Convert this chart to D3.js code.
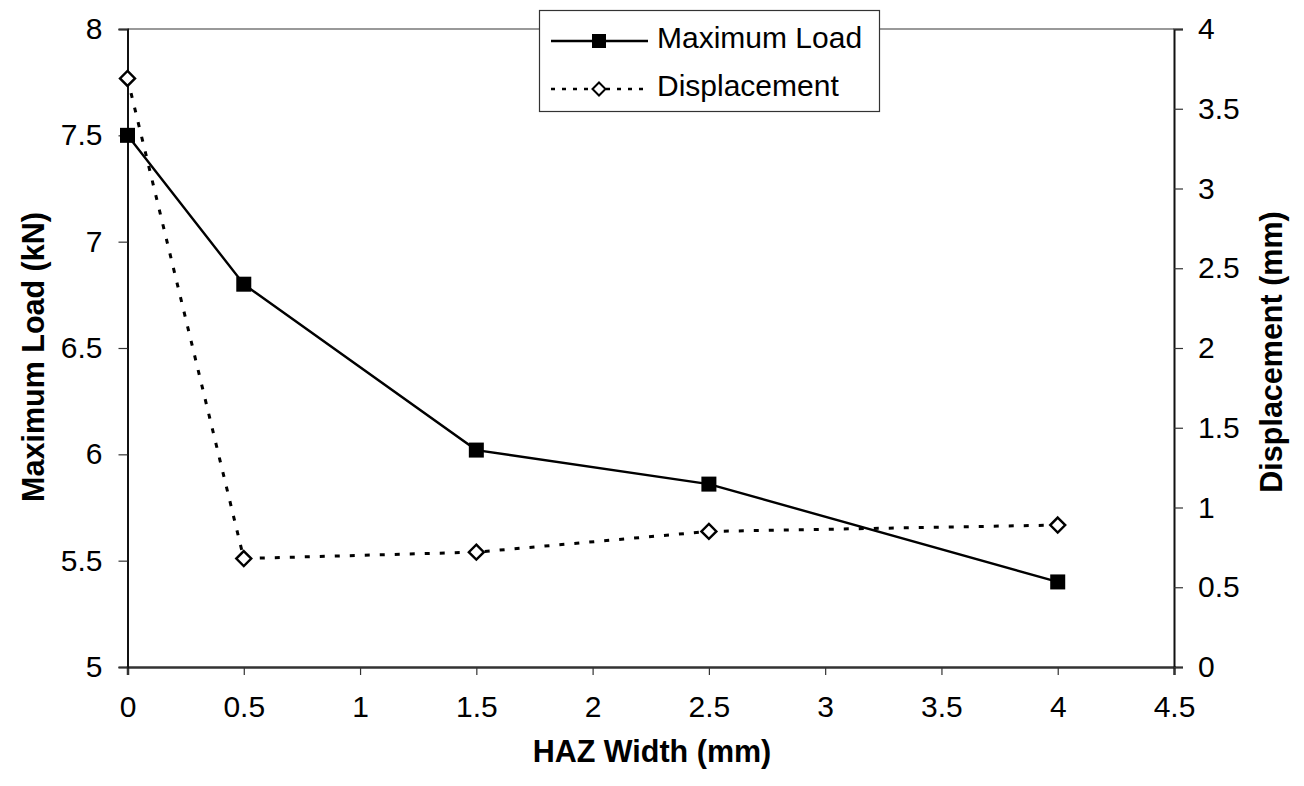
<!DOCTYPE html>
<html>
<head>
<meta charset="utf-8">
<script src="https://cdn.jsdelivr.net/npm/d3@7"></script>
<style>
  html, body { margin: 0; padding: 0; background: #fff; }
  svg { display: block; font-family: "Liberation Sans", Arial, sans-serif; }
</style>
</head>
<body>
<svg id="chart" width="1304" height="786"></svg>
<script>
// HAZ width (mm) at each measured point
const hazWidth = [0, 0.5, 1.5, 2.5, 4];
// Maximum load (kN) — left axis
const maxLoad = [7.5, 6.8, 6.02, 5.86, 5.4];
// Displacement (mm) — right axis
const displacement = [3.69, 0.68, 0.72, 0.85, 0.89];

const xTicks = [0, 0.5, 1, 1.5, 2, 2.5, 3, 3.5, 4, 4.5];
const yLeftTicks = [5, 5.5, 6, 6.5, 7, 7.5, 8];
const yRightTicks = [0, 0.5, 1, 1.5, 2, 2.5, 3, 3.5, 4];

const svg = d3.select("#chart");
const m = { left: 127.5, right: 1174, top: 29, bottom: 667 };

const x = d3.scaleLinear().domain([0, 4.5]).range([m.left, m.right]);
const yL = d3.scaleLinear().domain([5, 8]).range([m.bottom, m.top]);
const yR = d3.scaleLinear().domain([0, 4]).range([m.bottom, m.top]);

const fmt = d => String(d);
const fontSize = 30;
const titleSize = 30.5;

// top frame line
svg.append("line")
  .attr("x1", m.left).attr("x2", m.right)
  .attr("y1", m.top).attr("y2", m.top)
  .attr("stroke", "#999").attr("stroke-width", 2);

// bottom axis
const gx = svg.append("g")
  .attr("transform", `translate(0,${m.bottom})`)
  .call(d3.axisBottom(x).tickValues(xTicks).tickFormat(fmt).tickSize(8).tickPadding(21));
gx.select(".domain").attr("stroke", "#333").attr("stroke-width", 2.5);
gx.selectAll(".tick line").attr("stroke", "#333").attr("stroke-width", 1.2);
gx.selectAll("text").attr("font-size", fontSize).attr("fill", "#000")
  .attr("font-family", "Liberation Sans, Arial, sans-serif");

// left axis
const gl = svg.append("g")
  .attr("transform", `translate(${m.left},0)`)
  .call(d3.axisLeft(yL).tickValues(yLeftTicks).tickFormat(fmt).tickSize(9).tickPadding(16));
gl.select(".domain").attr("stroke", "#111").attr("stroke-width", 2);
gl.selectAll(".tick line").attr("stroke", "#333").attr("stroke-width", 1.2);
gl.selectAll("text").attr("font-size", fontSize).attr("fill", "#000")
  .attr("font-family", "Liberation Sans, Arial, sans-serif");

// right axis
const gr = svg.append("g")
  .attr("transform", `translate(${m.right},0)`)
  .call(d3.axisRight(yR).tickValues(yRightTicks).tickFormat(fmt).tickSize(9).tickPadding(15));
gr.select(".domain").attr("stroke", "#111").attr("stroke-width", 2);
gr.selectAll(".tick line").attr("stroke", "#333").attr("stroke-width", 1.2);
gr.selectAll("text").attr("font-size", fontSize).attr("fill", "#000")
  .attr("font-family", "Liberation Sans, Arial, sans-serif");

// axis titles
svg.append("text")
  .attr("x", 652).attr("y", 762)
  .attr("text-anchor", "middle")
  .attr("font-size", titleSize).attr("font-weight", "bold")
  .text("HAZ Width (mm)");

svg.append("text")
  .attr("transform", "translate(44,357) rotate(-90)")
  .attr("text-anchor", "middle")
  .attr("font-size", titleSize).attr("font-weight", "bold")
  .text("Maximum Load (kN)");

svg.append("text")
  .attr("transform", "translate(1282,352) rotate(-90)")
  .attr("text-anchor", "middle")
  .attr("font-size", titleSize).attr("font-weight", "bold")
  .text("Displacement (mm)");

// series: displacement (dotted, open diamonds)
const lineR = d3.line().x((d, i) => x(hazWidth[i])).y(d => yR(d));
svg.append("path")
  .datum(displacement)
  .attr("d", lineR)
  .attr("fill", "none").attr("stroke", "#000")
  .attr("stroke-width", 3).attr("stroke-dasharray", "5,10");

const diamond = s => `M0,${-s} L${s},0 L0,${s} L${-s},0 Z`;
svg.append("g").selectAll("path")
  .data(displacement)
  .join("path")
  .attr("transform", (d, i) => `translate(${x(hazWidth[i])},${yR(d)})`)
  .attr("d", diamond(7.5))
  .attr("fill", "#fff").attr("stroke", "#000").attr("stroke-width", 2.4);

// series: maximum load (solid, filled squares)
const lineL = d3.line().x((d, i) => x(hazWidth[i])).y(d => yL(d));
svg.append("path")
  .datum(maxLoad)
  .attr("d", lineL)
  .attr("fill", "none").attr("stroke", "#000").attr("stroke-width", 2.4);

svg.append("g").selectAll("rect")
  .data(maxLoad)
  .join("rect")
  .attr("x", (d, i) => x(hazWidth[i]) - 7.5)
  .attr("y", d => yL(d) - 7.5)
  .attr("width", 15).attr("height", 15)
  .attr("fill", "#000");

// legend
const lg = svg.append("g");
lg.append("rect")
  .attr("x", 539.5).attr("y", 10.5).attr("width", 340).attr("height", 101)
  .attr("fill", "#fff").attr("stroke", "#333").attr("stroke-width", 1.2);

lg.append("line")
  .attr("x1", 551).attr("x2", 648).attr("y1", 41).attr("y2", 41)
  .attr("stroke", "#000").attr("stroke-width", 2.4);
lg.append("rect")
  .attr("x", 592).attr("y", 34).attr("width", 14).attr("height", 14).attr("fill", "#000");
lg.append("text")
  .attr("x", 657).attr("y", 48).attr("font-size", fontSize).text("Maximum Load");

lg.append("line")
  .attr("x1", 551).attr("x2", 648).attr("y1", 89).attr("y2", 89)
  .attr("stroke", "#000").attr("stroke-width", 2.4).attr("stroke-dasharray", "4,7");
lg.append("path")
  .attr("transform", "translate(599,89)")
  .attr("d", diamond(6.5))
  .attr("fill", "#fff").attr("stroke", "#000").attr("stroke-width", 2);
lg.append("text")
  .attr("x", 657).attr("y", 96).attr("font-size", fontSize).text("Displacement");
</script>
</body>
</html>
